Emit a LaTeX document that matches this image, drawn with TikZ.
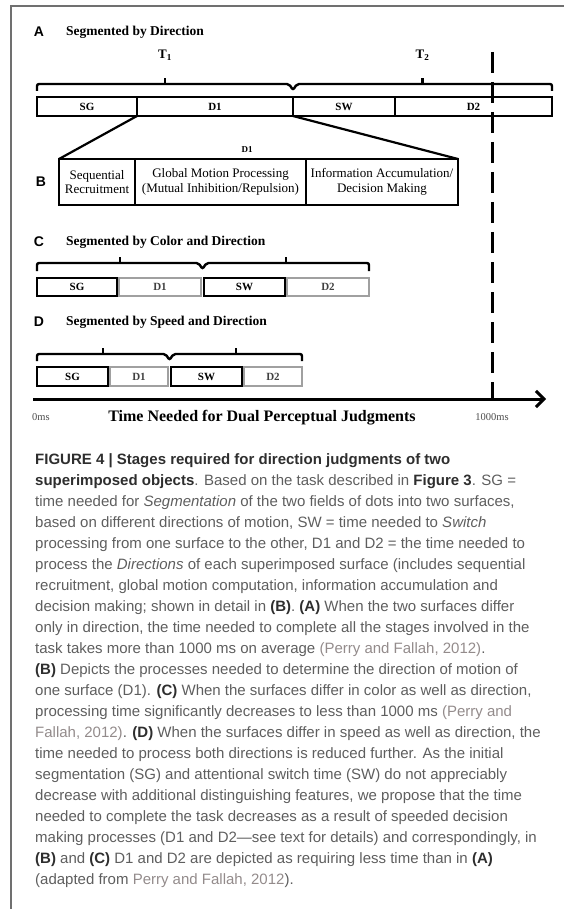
\documentclass[tikz,border=0pt]{standalone}
\usepackage{fontspec}
\setmainfont{Liberation Serif}
\setsansfont{Liberation Sans}
\usetikzlibrary{positioning,calc,arrows.meta}

\definecolor{framegray}{HTML}{707070}
\definecolor{captext}{HTML}{5E5E5E}
\definecolor{capstrong}{HTML}{2E2E2E}
\definecolor{capcite}{HTML}{938B8B}
\definecolor{pale}{HTML}{A0A0A0}

% caption helpers: bold panel references and faded citations
\newcommand{\pref}[1]{\textbf{\textcolor{capstrong}{#1}}}
\newcommand{\srcref}[1]{\textcolor{capcite}{#1}}

\begin{document}
\begin{tikzpicture}[x=1pt,y=-1pt,
    stage/.style={draw=black,line width=2.6pt,inner sep=0pt,outer sep=0pt,
      minimum height=19pt,font=\bfseries\fontsize{11}{11}\selectfont},
    faint/.style={stage,draw=pale,line width=2pt,text=black!75},
    phase/.style={draw=black,line width=2.6pt,inner sep=0pt,outer sep=0pt,
      minimum height=46pt,align=center,font=\fontsize{13}{14.5}\selectfont},
    panel/.style={font=\sffamily\bfseries\fontsize{14}{14}\selectfont},
    heading/.style={anchor=west,inner sep=0pt,font=\bfseries\fontsize{13.5}{13.5}\selectfont},
    brace/.style={line width=2.4pt,rounded corners=2pt},
    tick/.style={line width=2.4pt},
    link/.style={line width=2.2pt},
    limit/.style={line width=3pt,dash pattern=on 21pt off 9pt},
    tlabel/.style={font=\bfseries\fontsize{13}{13}\selectfont},
    mslabel/.style={font=\fontsize{10.5}{10.5}\selectfont,text=black!70}]
\useasboundingbox (0,0) rectangle (564,909);

% frame
\draw[framegray,line width=1.4pt] (11,909) -- (11,6) -- (564,6);

% A: segmented by direction only
\node[panel] (pA) at (39,32) {A};
\node[heading] (hA) at (66,32) {Segmented by Direction};
\node[stage,anchor=north west,minimum width=100pt] (aSG) at (37,97) {SG};
\node[stage,right=0pt of aSG,minimum width=156pt] (aD1) {D1};
\node[stage,right=0pt of aD1,minimum width=102pt] (aSW) {SW};
\node[stage,right=0pt of aSW,minimum width=157pt] (aD2) {D2};
\coordinate (aMid) at (aD1.north east);
\draw[brace] ($(aSG.north west)+(0,-6)$) |- ($(aMid)+(-4,-13)$)
  -- ($(aMid)+(0,-7)$) -- ($(aMid)+(4,-13)$) -| ($(aD2.north east)+(0,-6)$);
\coordinate (a1) at ($(aSG.north west)!0.5!(aMid)+(0,-13)$);
\coordinate (a2) at ($(aMid)!0.5!(aD2.north east)+(0,-13)$);
\draw[tick] (a1) -- ++(0,-6);
\draw[tick] (a2) -- ++(0,-6);
\node[tlabel] (T1) at ($(a1)+(0,-29)$) {T\textsubscript{1}};
\node[tlabel] (T2) at ($(a2)+(0,-29)$) {T\textsubscript{2}};

% B: what happens inside D1
\node[panel] (pB) at (41,182) {B};
\node[phase,anchor=north west,minimum width=76pt] (bSR) at (59,159) {Sequential\\Recruitment};
\node[phase,right=0pt of bSR,minimum width=171pt] (bGM) {Global Motion Processing\\(Mutual Inhibition/Repulsion)};
\node[phase,right=0pt of bGM,minimum width=152pt] (bIA) {Information Accumulation/\\Decision Making};
\node[font=\bfseries\fontsize{9}{9}\selectfont] (bTop) at (247,150) {D1};
\draw[link] (aSG.south east) -- (bSR.north west);
\draw[link] (aD1.south east) -- (bIA.north east);

% C: colour and direction
\node[panel] (pC) at (39,242) {C};
\node[heading] (hC) at (66,242) {Segmented by Color and Direction};
\node[stage,anchor=north west,minimum width=80pt,minimum height=18pt] (cSG) at (37,278) {SG};
\node[faint,right=2pt of cSG,minimum width=82pt,minimum height=18pt] (cD1) {D1};
\node[stage,right=3pt of cD1,minimum width=81pt,minimum height=18pt] (cSW) {SW};
\node[faint,right=2pt of cSW,minimum width=82pt,minimum height=18pt] (cD2) {D2};
\coordinate (cMid) at ($(cD1.north east)!0.5!(cSW.north west)$);
\draw[brace] ($(cSG.north west)+(0,-7)$) |- ($(cMid)+(-4,-15)$)
  -- ($(cMid)+(0,-9)$) -- ($(cMid)+(4,-15)$) -| ($(cD2.north east)+(0,-7)$);
\coordinate (c1) at ($(cSG.north west)!0.5!(cMid)+(0,-15)$);
\coordinate (c2) at ($(cMid)!0.5!(cD2.north east)+(0,-15)$);
\draw[tick] (c1) -- ++(0,-6);
\draw[tick] (c2) -- ++(0,-6);

% D: speed and direction
\node[panel] (pD) at (39,322) {D};
\node[heading] (hD) at (66,322) {Segmented by Speed and Direction};
\node[stage,anchor=north west,minimum width=71pt] (dSG) at (37,367) {SG};
\node[faint,right=2pt of dSG,minimum width=58pt] (dD1) {D1};
\node[stage,right=3pt of dD1,minimum width=71pt] (dSW) {SW};
\node[faint,right=2pt of dSW,minimum width=58pt] (dD2) {D2};
\coordinate (dMid) at ($(dD1.north east)!0.5!(dSW.north west)$);
\draw[brace] ($(dSG.north west)+(0,-6)$) |- ($(dMid)+(-4,-13)$)
  -- ($(dMid)+(0,-7)$) -- ($(dMid)+(4,-13)$) -| ($(dD2.north east)+(0,-6)$);
\coordinate (d1) at ($(dSG.north west)!0.5!(dMid)+(0,-13)$);
\coordinate (d2) at ($(dMid)!0.5!(dD2.north east)+(0,-13)$);
\draw[tick] (d1) -- ++(0,-6);
\draw[tick] (d2) -- ++(0,-6);

% time axis and the 1000 ms limit
\coordinate (origin) at (33,399);
\coordinate (tEnd) at (546,399);
\draw[line width=3pt,-{Straight Barb[length=8pt,width=16pt]}] (origin) -- (tEnd);
\node[mslabel] (zero) at (41,417) {0ms};
\node[font=\bfseries\fontsize{16}{16}\selectfont] (axisTitle) at (262,418) {Time Needed for Dual Perceptual Judgments};
\node[mslabel] (full) at (492,417) {1000ms};
\draw[limit] (full |- 0,52) -- (full |- origin);

% caption
\node[anchor=north west,inner sep=0pt,align=left,text=captext,
  font=\sffamily\fontsize{15}{21}\selectfont] (caption) at (35,453) {%
\textbf{\textcolor{capstrong}{FIGURE 4 | Stages required for direction judgments of two}}\\
\textbf{\textcolor{capstrong}{superimposed objects}}. Based on the task described in \pref{Figure 3}. SG =\\
time needed for \textit{Segmentation} of the two fields of dots into two surfaces,\\
based on different directions of motion, SW = time needed to \textit{Switch}\\
processing from one surface to the other, D1 and D2 = the time needed to\\
process the \textit{Directions} of each superimposed surface (includes sequential\\
recruitment, global motion computation, information accumulation and\\
decision making; shown in detail in \pref{(B)}. \pref{(A)} When the two surfaces differ\\
only in direction, the time needed to complete all the stages involved in the\\
task takes more than 1000 ms on average \srcref{(Perry and Fallah, 2012)}.\\
\pref{(B)} Depicts the processes needed to determine the direction of motion of\\
one surface (D1). \pref{(C)} When the surfaces differ in color as well as direction,\\
processing time significantly decreases to less than 1000 ms \srcref{(Perry and}\\
\srcref{Fallah, 2012)}. \pref{(D)} When the surfaces differ in speed as well as direction, the\\
time needed to process both directions is reduced further. As the initial\\
segmentation (SG) and attentional switch time (SW) do not appreciably\\
decrease with additional distinguishing features, we propose that the time\\
needed to complete the task decreases as a result of speeded decision\\
making processes (D1 and D2—see text for details) and correspondingly, in\\
\pref{(B)} and \pref{(C)} D1 and D2 are depicted as requiring less time than in \pref{(A)}\\
(adapted from \srcref{Perry and Fallah, 2012}).};
\end{tikzpicture}
\end{document}
